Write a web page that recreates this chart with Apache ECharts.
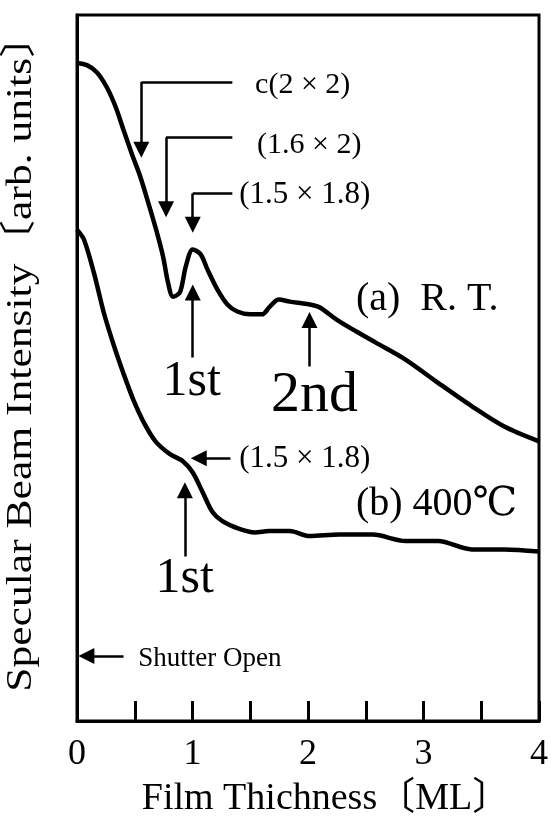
<!DOCTYPE html>
<html><head><meta charset="utf-8">
<script src="https://cdn.jsdelivr.net/npm/echarts@6/dist/echarts.min.js"></script>
<style>html,body{margin:0;padding:0;background:#fff}#c{width:551px;height:823px}</style>
</head><body><div id="c"></div>
<script>
// Curve (a) R.T.
const thicknessA = [0, 0.086, 0.171, 0.257, 0.334, 0.403, 0.471, 0.548, 0.617, 0.685, 0.745, 0.788, 0.831, 0.891, 0.942, 1.002, 1.071, 1.131, 1.216, 1.302, 1.388, 1.499, 1.602, 1.670, 1.747, 1.842, 2.013, 2.099, 2.244, 2.415, 2.587, 2.844, 3.126, 3.417, 3.700, 4.0];
const intensityA = [93.2, 92.9, 91.9, 89.8, 87.0, 83.7, 80.5, 77.1, 73.4, 69.6, 65.8, 62.1, 60.1, 60.7, 64.4, 66.8, 66.1, 63.9, 61.1, 59.0, 58.0, 57.6, 57.6, 58.7, 59.7, 59.4, 59.0, 58.6, 56.9, 55.2, 53.6, 51.2, 47.9, 44.6, 41.7, 39.6];
// Curve (b) 400℃
const thicknessB = [0, 0.060, 0.146, 0.231, 0.317, 0.403, 0.488, 0.591, 0.685, 0.805, 0.917, 1.002, 1.088, 1.173, 1.259, 1.405, 1.542, 1.662, 1.842, 2.013, 2.270, 2.561, 2.844, 3.126, 3.417, 3.700, 4.0];
const intensityB = [69.6, 68.2, 63.5, 57.9, 53.3, 49.2, 45.5, 41.9, 39.5, 37.8, 36.8, 35.2, 32.4, 29.6, 28.3, 27.2, 26.7, 26.9, 26.9, 26.2, 26.4, 26.4, 25.5, 25.5, 24.3, 24.3, 24.0];
const xTickLabels = [0, 1, 2, 3, 4];

// Annotation texts and their anchor points (data coordinates)
const noteTexts = ['c(2 × 2)', '(1.6 × 2)', '(1.5 × 1.8)', '1st', '2nd', '(a)  R. T.', '(1.5 × 1.8)', '(b) 400℃', '1st', 'Shutter Open'];
const noteX = [1.542, 1.559, 1.405, 0.993, 2.056, 2.415, 1.405, 2.415, 0.933, 0.531];
const noteY = [90.1, 81.6, 74.5, 48.1, 46.0, 59.7, 37.1, 30.7, 20.1, 8.8];
// Arrow paths (data coordinates): plain segments and arrowed segments
const plainSegments = [
  [[1.345, 90.5], [0.557, 90.5]],
  [[1.345, 82.7], [0.771, 82.7]],
  [[1.345, 74.7], [1.002, 74.7]]
];
const arrowSegments = [
  [[0.557, 90.5], [0.557, 80.9]],
  [[0.771, 82.7], [0.771, 72.5]],
  [[1.002, 74.7], [1.002, 70.3]],
  [[1.002, 51.5], [1.002, 60.7]],
  [[2.013, 50.2], [2.013, 56.8]],
  [[1.328, 37.2], [1.054, 37.2]],
  [[0.934, 23.3], [0.934, 32.7]],
  [[0.403, 9.2], [0.081, 9.2]]
];

const FONT = "'Liberation Serif', 'DejaVu Serif', 'Noto Sans CJK JP', serif";
const noteStyle = [
  {fontSize: 30, align: 'left'},
  {fontSize: 30, align: 'left'},
  {fontSize: 31, align: 'left'},
  {fontSize: 50, align: 'center'},
  {fontSize: 58, align: 'center'},
  {fontSize: 40, align: 'left'},
  {fontSize: 31, align: 'left'},
  {fontSize: 40, align: 'left'},
  {fontSize: 50, align: 'center'},
  {fontSize: 27, align: 'left'}
];

const chart = echarts.init(document.getElementById('c'), null, {renderer: 'canvas'});
const zip = (xs, ys) => xs.map((x, i) => [x, ys[i]]);

chart.setOption({
  animation: false,
  backgroundColor: '#fff',
  grid: {left: 77, right: 7, top: 15, bottom: 101, show: true, borderColor: '#000', borderWidth: 3, backgroundColor: 'transparent'},
  graphic: [{
    type: 'text', x: 22, y: 353, rotation: Math.PI / 2, scaleX: 1.21, silent: true,
    style: {text: 'Specular Beam Intensity〔arb. units〕', font: "36px " + FONT, fill: '#000',
            align: 'center', verticalAlign: 'middle'}
  }],
  xAxis: {
    type: 'value', min: 0, max: 4, interval: 0.5,
    name: 'Film Thichness〔ML〕', nameLocation: 'middle', nameGap: 59,
    nameTextStyle: {fontFamily: FONT, fontSize: 38, color: '#000', padding: [0, 0, 0, 36]},
    axisLine: {show: true, lineStyle: {color: '#000', width: 3}},
    axisTick: {show: true, inside: true, length: 20, lineStyle: {color: '#000', width: 3}},
    axisLabel: {
      margin: 16, fontFamily: FONT, fontSize: 36, color: '#000',
      formatter: v => (xTickLabels.indexOf(v) >= 0 ? String(v) : '')
    },
    splitLine: {show: false}
  },
  yAxis: {
    type: 'value', min: 0, max: 100,
    axisLine: {show: true, lineStyle: {color: '#000', width: 3}},
    axisTick: {show: false}, axisLabel: {show: false}, splitLine: {show: false}
  },
  series: [
    {type: 'line', data: zip(thicknessA, intensityA), smooth: 0.3, showSymbol: false,
     lineStyle: {color: '#000', width: 4.5}},
    {type: 'line', data: zip(thicknessB, intensityB), smooth: 0.3, showSymbol: false,
     lineStyle: {color: '#000', width: 4.5}},
    {type: 'lines', coordinateSystem: 'cartesian2d', polyline: false, symbol: ['none', 'none'],
     lineStyle: {color: '#000', width: 2.5, opacity: 1, curveness: 0},
     data: plainSegments.map(c => ({coords: c})), silent: true},
    {type: 'lines', coordinateSystem: 'cartesian2d', polyline: false, symbol: ['none', 'triangle'], symbolSize: [12, 16],
     lineStyle: {color: '#000', width: 2.5, opacity: 1, curveness: 0},
     data: arrowSegments.map(c => ({coords: c})), silent: true},
    {type: 'scatter', symbolSize: 0, silent: true, itemStyle: {opacity: 1},
     data: noteTexts.map((t, i) => ({
       value: [noteX[i], noteY[i]],
       label: {show: true, position: 'inside', formatter: t, fontFamily: FONT, color: '#000', opacity: 1,
               fontSize: noteStyle[i].fontSize, align: noteStyle[i].align, verticalAlign: 'middle'}
     }))}
  ]
});
</script></body></html>
